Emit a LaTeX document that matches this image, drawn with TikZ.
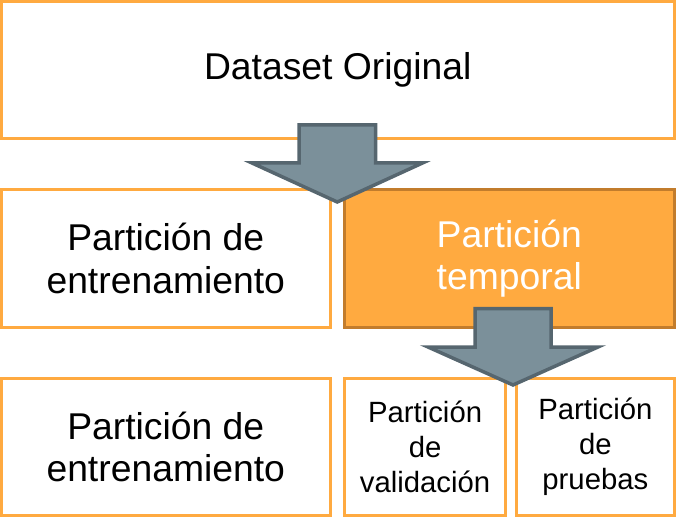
\documentclass[tikz,border=0pt]{standalone}
\usepackage{fontspec}
\setmainfont{Liberation Sans}
\definecolor{boxorange}{HTML}{FFAA40}
\definecolor{darkorange}{HTML}{C27C2C}
\definecolor{arrowfill}{HTML}{7B909A}
\definecolor{arrowline}{HTML}{56666F}
\tikzset{
  box/.style={draw=boxorange, line width=3bp, fill=white, inner sep=0pt, align=center, text=black},
  hotbox/.style={draw=darkorange, line width=3bp, fill=boxorange, inner sep=0pt, align=center, text=white},
  bigfont/.style={font=\fontsize{37.3bp}{42.5bp}\selectfont},
  smallfont/.style={font=\fontsize{29.3bp}{35.2bp}\selectfont},
  blockarrow/.style={draw=arrowline, fill=arrowfill, line width=3.5bp, line join=miter},
}
\begin{document}
\begin{tikzpicture}[x=1bp,y=-1bp]
\useasboundingbox (0,0) rectangle (678,518);
% top box
\node[box, bigfont, minimum width=672.5bp, minimum height=137.5bp] (orig) at (337.75,70.25) {Dataset Original};
% row 2
\node[box, bigfont, minimum width=328.5bp, minimum height=137bp] (train1) at (165.75,258.5) {Partición de\\entrenamiento};
\node[hotbox, bigfont, minimum width=329.5bp, minimum height=137bp] (temp) at (509.25,258.5) {Partición\\temporal};
% row 3
\node[box, bigfont, minimum width=328.5bp, minimum height=137.5bp] (train2) at (165.75,446.75) {Partición de\\entrenamiento};
\node[box, smallfont, minimum width=161.2bp, minimum height=137.5bp] (val) at (425.1,446.75) {Partición\\de\\validación};
\node[box, smallfont, minimum width=157.3bp, minimum height=137.5bp] (test) at (595.35,446.75) {Partición\\de\\pruebas};
% block arrows
\draw[blockarrow] (299,125) -- (375.5,125) -- (375.5,163) -- (422.5,163) -- (337.25,202) -- (252,163) -- (299,163) -- cycle;
\draw[blockarrow] (475,308.5) -- (551,308.5) -- (551,347) -- (598,347) -- (513,385) -- (428,347) -- (475,347) -- cycle;
\end{tikzpicture}
\end{document}
